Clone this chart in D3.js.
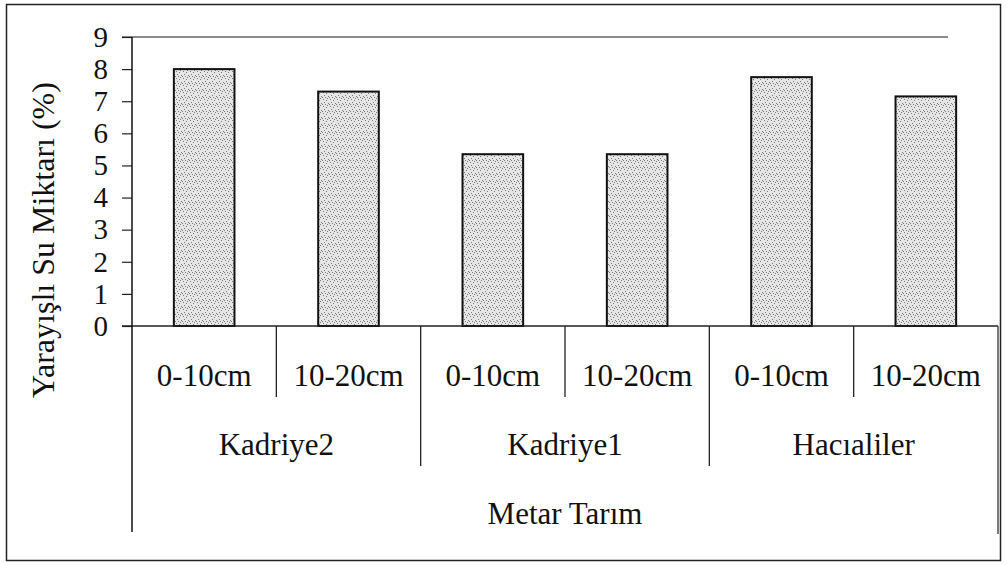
<!DOCTYPE html>
<html>
<head>
<meta charset="utf-8">
<script src="https://cdn.jsdelivr.net/npm/d3@7"></script>
<style>
    body { margin: 0; background: #fff; }
</style>
</head>
<body>
<div id="chart"></div>
<script>
// values
const groups = ["Kadriye2", "Kadriye1", "Hacıaliler"];
const depths = ["0-10cm", "10-20cm"];
const values = [8.0, 7.3, 5.35, 5.35, 7.75, 7.15];
const yTicks = [0, 1, 2, 3, 4, 5, 6, 7, 8, 9];
const topLabel = "Metar Tarım";
const yTitle = "Yarayışlı Su Miktarı (%)";

const width = 1008, height = 565;
const plotLeft = 132, plotRight = 998, plotTop = 37, plotBase = 326;
const serif = 'Liberation Serif, Tinos, DejaVu Serif, serif';

const svg = d3.select('#chart')
    .append('svg')
    .attr('width', width)
    .attr('height', height)
    .attr('font-family', serif);

// stipple fill for the bars
const pat = svg.append('defs').append('pattern')
    .attr('id', 'stipple')
    .attr('patternUnits', 'userSpaceOnUse')
    .attr('width', 7).attr('height', 7);
pat.append('rect').attr('width', 7).attr('height', 7).attr('fill', '#e6e6e6');
[[1, 1], [4, 2], [2, 4], [6, 5], [5, 0], [0, 6], [3, 6]].forEach(function(p) {
    pat.append('rect').attr('x', p[0]).attr('y', p[1])
        .attr('width', 1).attr('height', 1).attr('fill', '#7a7a7a');
});

// outer frame
svg.append('rect')
    .attr('x', 6.5).attr('y', 4.5)
    .attr('width', 994).attr('height', 556)
    .attr('fill', 'none')
    .attr('stroke', '#222')
    .attr('stroke-width', 1.5);

const cats = d3.range(values.length);
const x = d3.scaleBand().domain(cats).range([plotLeft, plotRight]).padding(0);
const y = d3.scaleLinear().domain([0, 9]).range([plotBase, plotTop]);

// top line of plot area (level 9)
svg.append('line')
    .attr('x1', plotLeft - 10).attr('x2', 948)
    .attr('y1', y(9)).attr('y2', y(9))
    .attr('stroke', '#666').attr('stroke-width', 1.5);

// y axis
const yAxis = svg.append('g')
    .attr('transform', 'translate(' + plotLeft + ',0)')
    .call(d3.axisLeft(y).tickValues(yTicks).tickSizeOuter(0).tickSize(10).tickPadding(14));
yAxis.attr('font-family', serif).attr('font-size', 29);
yAxis.select('.domain').remove();
yAxis.selectAll('line').attr('stroke', '#222').attr('stroke-width', 1.2);
yAxis.selectAll('text').attr('fill', '#111');

// bars
const bw = x.bandwidth() * 0.42;
svg.selectAll('rect.bar')
    .data(values).enter()
    .append('rect')
    .attr('class', 'bar')
    .attr('x', function(d, i) { return x(i) + (x.bandwidth() - bw) / 2; })
    .attr('y', function(d) { return y(d); })
    .attr('width', bw)
    .attr('height', function(d) { return plotBase - y(d); })
    .attr('fill', 'url(#stipple)')
    .attr('stroke', '#111')
    .attr('stroke-width', 2);

// x axis line
svg.append('line')
    .attr('x1', plotLeft - 10).attr('x2', plotRight)
    .attr('y1', plotBase).attr('y2', plotBase)
    .attr('stroke', '#222').attr('stroke-width', 1.5);

// left vertical axis runs down through the category table
svg.append('line')
    .attr('x1', plotLeft).attr('x2', plotLeft)
    .attr('y1', plotTop).attr('y2', 532)
    .attr('stroke', '#111').attr('stroke-width', 1.5);
svg.append('line')
    .attr('x1', plotRight).attr('x2', plotRight)
    .attr('y1', plotBase).attr('y2', 534)
    .attr('stroke', '#333').attr('stroke-width', 1.3);

// separators between categories
cats.slice(1).forEach(function(i) {
    const groupEdge = i % depths.length === 0;
    svg.append('line')
        .attr('x1', x(i)).attr('x2', x(i))
        .attr('y1', plotBase).attr('y2', groupEdge ? 466 : 397)
        .attr('stroke', '#222').attr('stroke-width', 1.3);
});

// depth labels
svg.selectAll('text.depth')
    .data(cats).enter()
    .append('text')
    .attr('class', 'depth')
    .attr('x', function(i) { return x(i) + x.bandwidth() / 2; })
    .attr('y', 386)
    .attr('text-anchor', 'middle')
    .attr('font-size', 31)
    .attr('fill', '#111')
    .text(function(i) { return depths[i % depths.length]; });

// group labels
svg.selectAll('text.group')
    .data(groups).enter()
    .append('text')
    .attr('class', 'group')
    .attr('x', function(d, g) {
        return (x(g * depths.length) + x(g * depths.length + depths.length - 1) + x.bandwidth()) / 2;
    })
    .attr('y', 455)
    .attr('text-anchor', 'middle')
    .attr('font-size', 31)
    .attr('fill', '#111')
    .text(function(d) { return d; });

svg.append('text')
    .attr('x', (plotLeft + plotRight) / 2)
    .attr('y', 524)
    .attr('text-anchor', 'middle')
    .attr('font-size', 31)
    .attr('fill', '#111')
    .text(topLabel);

// y title
svg.append('text')
    .attr('transform', 'translate(54,' + 240 + ')rotate(-90)')
    .attr('text-anchor', 'middle')
    .attr('font-size', 32)
    .attr('fill', '#111')
    .text(yTitle);
</script>
</body>
</html>
